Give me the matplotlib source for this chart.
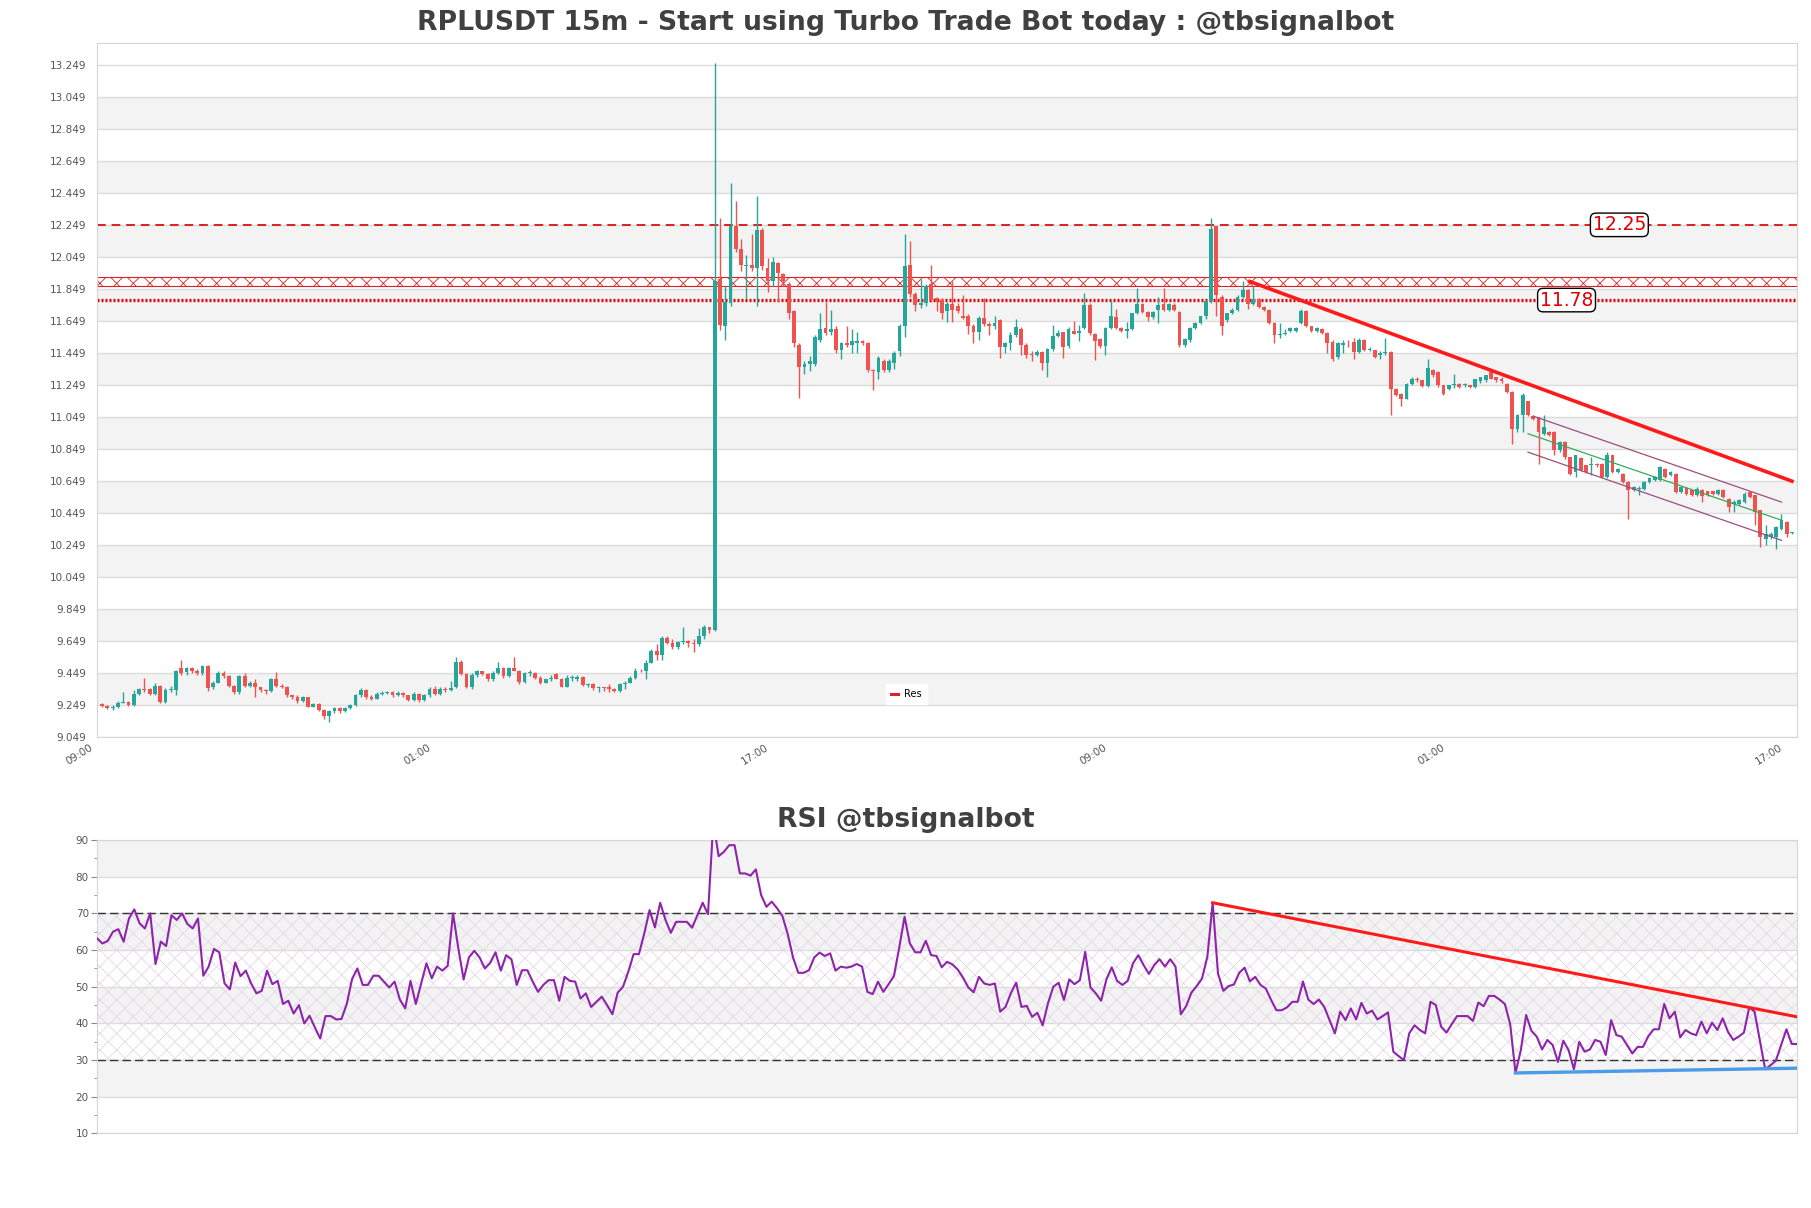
import numpy as np
import matplotlib
matplotlib.use('Agg')
import matplotlib.pyplot as plt
from matplotlib.lines import Line2D
from matplotlib.ticker import MultipleLocator
from matplotlib.transforms import ScaledTranslation

plt.rcParams['hatch.linewidth'] = 0.6
plt.rcParams['font.family'] = ['DejaVu Sans']

title = "RPLUSDT 15m - Start using Turbo Trade Bot today : @tbsignalbot"
rsi_title = "RSI @tbsignalbot"

opens = [
    9.255, 9.245, 9.23, 9.235, 9.265, 9.27, 9.25, 9.32, 9.35, 9.35,
    9.32, 9.37, 9.27, 9.345, 9.345, 9.48, 9.455, 9.48, 9.46, 9.45,
    9.495, 9.36, 9.39, 9.45, 9.43, 9.37, 9.33, 9.43, 9.37, 9.39,
    9.36, 9.345, 9.335, 9.41, 9.37, 9.365, 9.31, 9.30, 9.275, 9.30,
    9.24, 9.255, 9.22, 9.18, 9.21, 9.23, 9.21, 9.23, 9.25, 9.31,
    9.345, 9.30, 9.29, 9.32, 9.325, 9.33, 9.31, 9.325, 9.31, 9.28,
    9.32, 9.28, 9.31, 9.35, 9.32, 9.35, 9.345, 9.36, 9.52, 9.445,
    9.36, 9.44, 9.46, 9.445, 9.41, 9.45, 9.48, 9.43, 9.48, 9.465,
    9.395, 9.45, 9.45, 9.42, 9.39, 9.41, 9.445, 9.415, 9.365, 9.42,
    9.41, 9.425, 9.375, 9.38, 9.355, 9.36, 9.36, 9.35, 9.34, 9.38,
    9.39, 9.42, 9.465, 9.46, 9.515, 9.59, 9.56, 9.67, 9.64, 9.61,
    9.645, 9.65, 9.64, 9.63, 9.68, 9.735, 9.72, 11.91, 11.62, 11.76,
    12.24, 12.10, 11.99, 12.0, 11.98, 12.22, 11.98, 11.90, 12.01, 11.94,
    11.88, 11.71, 11.50, 11.36, 11.38, 11.38, 11.53, 11.605, 11.58, 11.60,
    11.47, 11.51, 11.50, 11.515, 11.525, 11.51, 11.345, 11.33, 11.40, 11.345,
    11.39, 11.46, 11.615, 12.0, 11.82, 11.75, 11.76, 11.88, 11.79, 11.78,
    11.71, 11.755, 11.74, 11.68, 11.68, 11.62, 11.58, 11.67, 11.63, 11.615,
    11.655, 11.49, 11.51, 11.56, 11.60, 11.50, 11.445, 11.44, 11.455, 11.39,
    11.474, 11.557, 11.578, 11.495, 11.587, 11.575, 11.605, 11.751, 11.57, 11.537,
    11.491, 11.605, 11.672, 11.605, 11.585, 11.60, 11.699, 11.757, 11.703, 11.672,
    11.72, 11.757, 11.72, 11.751, 11.703, 11.501, 11.532, 11.605, 11.637, 11.678,
    11.772, 12.24, 11.80, 11.653, 11.699, 11.72, 11.80, 11.845, 11.755, 11.787,
    11.737, 11.72, 11.637, 11.564, 11.57, 11.585, 11.585, 11.637, 11.71, 11.616,
    11.585, 11.60, 11.574, 11.518, 11.424, 11.50, 11.514, 11.518, 11.455, 11.528,
    11.47, 11.466, 11.435, 11.451, 11.455, 11.226, 11.195, 11.164, 11.257, 11.289,
    11.278, 11.243, 11.341, 11.33, 11.247, 11.226, 11.25, 11.257, 11.247, 11.247,
    11.237, 11.272, 11.278, 11.33, 11.299, 11.29, 11.257, 11.205, 10.976, 11.059,
    11.147, 11.055, 11.049, 10.945, 10.955, 10.955, 10.841, 10.893, 10.799, 10.705,
    10.793, 10.747, 10.747, 10.758, 10.758, 10.674, 10.81, 10.705, 10.695, 10.643,
    10.591, 10.601, 10.601, 10.643, 10.653, 10.653, 10.726, 10.685, 10.695, 10.58,
    10.606, 10.591, 10.56, 10.591, 10.585, 10.585, 10.57, 10.591, 10.539, 10.508,
    10.508, 10.518, 10.58, 10.56, 10.466, 10.289, 10.299, 10.299, 10.351, 10.393,
    10.326]

highs = [
    9.265, 9.25, 9.25, 9.275, 9.33, 9.275, 9.345, 9.355, 9.42, 9.355,
    9.39, 9.375, 9.355, 9.37, 9.47, 9.53, 9.49, 9.485, 9.475, 9.50,
    9.50, 9.40, 9.46, 9.46, 9.44, 9.375, 9.44, 9.45, 9.40, 9.41,
    9.365, 9.35, 9.42, 9.455, 9.38, 9.37, 9.315, 9.31, 9.305, 9.30,
    9.26, 9.26, 9.225, 9.22, 9.235, 9.235, 9.235, 9.255, 9.32, 9.355,
    9.35, 9.31, 9.33, 9.34, 9.34, 9.335, 9.335, 9.33, 9.315, 9.33,
    9.325, 9.32, 9.36, 9.37, 9.36, 9.36, 9.40, 9.55, 9.53, 9.45,
    9.45, 9.47, 9.465, 9.45, 9.46, 9.52, 9.485, 9.49, 9.55, 9.47,
    9.455, 9.47, 9.455, 9.43, 9.415, 9.44, 9.45, 9.42, 9.44, 9.44,
    9.44, 9.43, 9.39, 9.385, 9.37, 9.365, 9.38, 9.355, 9.39, 9.40,
    9.43, 9.48, 9.475, 9.53, 9.60, 9.63, 9.68, 9.68, 9.66, 9.65,
    9.74, 9.655, 9.66, 9.73, 9.75, 9.74, 13.26, 12.29, 11.87, 12.51,
    12.40, 12.16, 12.06, 12.19, 12.43, 12.23, 12.04, 12.05, 12.02, 11.95,
    11.89, 11.72, 11.51, 11.40, 11.43, 11.56, 11.70, 11.77, 11.72, 11.62,
    11.52, 11.62, 11.60, 11.58, 11.53, 11.52, 11.35, 11.43, 11.41, 11.41,
    11.46, 11.63, 12.19, 12.15, 11.83, 11.91, 11.88, 12.0, 11.80, 11.79,
    11.77, 11.90, 11.76, 11.81, 11.69, 11.63, 11.68, 11.79, 11.64, 11.68,
    11.66, 11.52, 11.58, 11.66, 11.61, 11.51, 11.46, 11.47, 11.46, 11.48,
    11.626, 11.59, 11.58, 11.61, 11.65, 11.626, 11.824, 11.76, 11.575, 11.54,
    11.61, 11.772, 11.724, 11.61, 11.64, 11.70, 11.855, 11.76, 11.71, 11.71,
    11.80, 11.855, 11.76, 11.76, 11.71, 11.54, 11.61, 11.64, 11.68, 11.78,
    12.293, 12.245, 11.81, 11.70, 11.73, 11.81, 11.90, 11.85, 11.866, 11.79,
    11.74, 11.725, 11.64, 11.637, 11.60, 11.61, 11.61, 11.724, 11.715, 11.62,
    11.61, 11.605, 11.58, 11.53, 11.52, 11.53, 11.53, 11.54, 11.54, 11.535,
    11.49, 11.47, 11.46, 11.54, 11.46, 11.23, 11.20, 11.26, 11.30, 11.30,
    11.28, 11.414, 11.35, 11.335, 11.25, 11.25, 11.32, 11.26, 11.265, 11.25,
    11.29, 11.30, 11.31, 11.335, 11.30, 11.30, 11.26, 11.21, 11.07, 11.20,
    11.15, 11.06, 11.05, 11.059, 10.96, 10.96, 10.90, 10.90, 10.80, 10.815,
    10.80, 10.75, 10.80, 10.76, 10.76, 10.83, 10.815, 10.73, 10.70, 10.65,
    10.62, 10.62, 10.65, 10.675, 10.68, 10.745, 10.73, 10.71, 10.70, 10.62,
    10.61, 10.595, 10.61, 10.60, 10.59, 10.59, 10.60, 10.60, 10.545, 10.53,
    10.535, 10.58, 10.59, 10.565, 10.47, 10.372, 10.33, 10.37, 10.445, 10.40,
    10.33]

lows = [
    9.24, 9.225, 9.22, 9.23, 9.26, 9.245, 9.245, 9.315, 9.33, 9.31,
    9.315, 9.26, 9.265, 9.33, 9.31, 9.44, 9.44, 9.45, 9.44, 9.44,
    9.34, 9.35, 9.385, 9.42, 9.365, 9.32, 9.32, 9.36, 9.36, 9.30,
    9.33, 9.32, 9.33, 9.36, 9.355, 9.30, 9.29, 9.265, 9.27, 9.235,
    9.235, 9.21, 9.16, 9.145, 9.20, 9.20, 9.205, 9.225, 9.245, 9.30,
    9.29, 9.28, 9.285, 9.31, 9.32, 9.30, 9.305, 9.30, 9.275, 9.275,
    9.27, 9.275, 9.30, 9.31, 9.315, 9.33, 9.335, 9.355, 9.44, 9.355,
    9.35, 9.425, 9.435, 9.40, 9.40, 9.445, 9.42, 9.425, 9.46, 9.38,
    9.39, 9.43, 9.41, 9.38, 9.385, 9.40, 9.41, 9.36, 9.36, 9.40,
    9.40, 9.37, 9.36, 9.345, 9.33, 9.335, 9.33, 9.33, 9.33, 9.35,
    9.385, 9.41, 9.455, 9.415, 9.51, 9.53, 9.53, 9.63, 9.60, 9.60,
    9.63, 9.61, 9.58, 9.62, 9.66, 9.70, 9.71, 11.59, 11.53, 11.74,
    12.08, 11.96, 11.79, 11.96, 11.74, 11.97, 11.83, 11.87, 11.77, 11.87,
    11.66, 11.49, 11.17, 11.32, 11.34, 11.37, 11.52, 11.56, 11.56, 11.45,
    11.41, 11.49, 11.45, 11.45, 11.50, 11.33, 11.22, 11.29, 11.33, 11.33,
    11.35, 11.43, 11.55, 11.80, 11.71, 11.73, 11.74, 11.77, 11.71, 11.66,
    11.64, 11.64, 11.70, 11.66, 11.57, 11.51, 11.53, 11.62, 11.56, 11.60,
    11.42, 11.45, 11.47, 11.55, 11.44, 11.42, 11.40, 11.43, 11.345, 11.30,
    11.46, 11.55, 11.418, 11.48, 11.565, 11.522, 11.60, 11.56, 11.407, 11.48,
    11.439, 11.60, 11.60, 11.58, 11.543, 11.59, 11.69, 11.70, 11.647, 11.66,
    11.637, 11.71, 11.71, 11.71, 11.49, 11.49, 11.52, 11.60, 11.63, 11.66,
    11.76, 11.68, 11.564, 11.64, 11.69, 11.71, 11.79, 11.724, 11.75, 11.73,
    11.71, 11.63, 11.512, 11.543, 11.56, 11.58, 11.58, 11.63, 11.61, 11.58,
    11.58, 11.565, 11.449, 11.40, 11.41, 11.45, 11.49, 11.414, 11.45, 11.46,
    11.46, 11.42, 11.41, 11.44, 11.059, 11.18, 11.12, 11.16, 11.25, 11.27,
    11.24, 11.24, 11.30, 11.24, 11.19, 11.22, 11.23, 11.23, 11.24, 11.23,
    11.23, 11.265, 11.27, 11.285, 11.27, 11.265, 11.20, 10.882, 10.955, 10.955,
    11.055, 11.03, 10.758, 10.94, 10.93, 10.81, 10.83, 10.79, 10.69, 10.674,
    10.71, 10.70, 10.685, 10.74, 10.67, 10.67, 10.70, 10.70, 10.64, 10.414,
    10.585, 10.56, 10.595, 10.64, 10.65, 10.65, 10.67, 10.68, 10.575, 10.575,
    10.565, 10.555, 10.555, 10.518, 10.555, 10.565, 10.565, 10.545, 10.456, 10.456,
    10.50, 10.51, 10.545, 10.372, 10.237, 10.247, 10.29, 10.227, 10.345, 10.299,
    10.32]

closes = [
    9.245, 9.23, 9.24, 9.265, 9.27, 9.25, 9.32, 9.35, 9.345, 9.32,
    9.37, 9.27, 9.345, 9.35, 9.465, 9.45, 9.48, 9.46, 9.45, 9.495,
    9.355, 9.39, 9.45, 9.43, 9.37, 9.33, 9.43, 9.37, 9.39, 9.36,
    9.345, 9.335, 9.41, 9.37, 9.365, 9.31, 9.30, 9.275, 9.30, 9.24,
    9.255, 9.22, 9.18, 9.21, 9.23, 9.21, 9.23, 9.25, 9.31, 9.345,
    9.30, 9.29, 9.32, 9.325, 9.33, 9.31, 9.325, 9.31, 9.28, 9.32,
    9.28, 9.31, 9.35, 9.32, 9.35, 9.345, 9.355, 9.52, 9.445, 9.36,
    9.44, 9.46, 9.445, 9.41, 9.45, 9.48, 9.43, 9.48, 9.465, 9.395,
    9.45, 9.45, 9.42, 9.39, 9.41, 9.42, 9.415, 9.365, 9.42, 9.42,
    9.425, 9.375, 9.38, 9.355, 9.36, 9.355, 9.35, 9.34, 9.38, 9.39,
    9.42, 9.465, 9.46, 9.515, 9.59, 9.56, 9.67, 9.64, 9.61, 9.645,
    9.65, 9.64, 9.63, 9.68, 9.735, 9.72, 11.90, 11.625, 11.77, 12.24,
    12.10, 12.00, 12.0, 11.98, 12.22, 11.99, 11.90, 12.02, 11.95, 11.90,
    11.70, 11.51, 11.36, 11.38, 11.40, 11.55, 11.60, 11.575, 11.60, 11.47,
    11.51, 11.50, 11.525, 11.525, 11.51, 11.345, 11.335, 11.42, 11.345, 11.40,
    11.45, 11.615, 11.99, 11.82, 11.75, 11.76, 11.87, 11.78, 11.77, 11.70,
    11.755, 11.72, 11.71, 11.67, 11.62, 11.58, 11.67, 11.63, 11.615, 11.635,
    11.49, 11.51, 11.56, 11.61, 11.50, 11.44, 11.44, 11.455, 11.387, 11.474,
    11.557, 11.574, 11.49, 11.60, 11.57, 11.587, 11.751, 11.574, 11.526, 11.491,
    11.605, 11.678, 11.605, 11.585, 11.60, 11.699, 11.757, 11.703, 11.672, 11.703,
    11.751, 11.72, 11.757, 11.72, 11.501, 11.537, 11.605, 11.637, 11.678, 11.772,
    12.224, 11.81, 11.616, 11.699, 11.72, 11.80, 11.845, 11.755, 11.787, 11.737,
    11.72, 11.637, 11.564, 11.57, 11.574, 11.605, 11.605, 11.71, 11.616, 11.585,
    11.605, 11.574, 11.512, 11.414, 11.514, 11.514, 11.51, 11.455, 11.528, 11.47,
    11.47, 11.424, 11.451, 11.455, 11.222, 11.185, 11.164, 11.257, 11.289, 11.278,
    11.243, 11.355, 11.31, 11.247, 11.195, 11.247, 11.257, 11.237, 11.257, 11.237,
    11.289, 11.299, 11.31, 11.289, 11.278, 11.272, 11.205, 10.976, 11.064, 11.189,
    11.059, 11.035, 10.955, 10.987, 10.935, 10.841, 10.893, 10.799, 10.695, 10.81,
    10.716, 10.705, 10.758, 10.747, 10.674, 10.81, 10.705, 10.726, 10.643, 10.591,
    10.612, 10.605, 10.643, 10.668, 10.674, 10.737, 10.674, 10.705, 10.58, 10.612,
    10.57, 10.56, 10.601, 10.556, 10.56, 10.57, 10.591, 10.549, 10.487, 10.518,
    10.528, 10.57, 10.549, 10.456, 10.299, 10.32, 10.32, 10.362, 10.404, 10.32,
    10.326]

rsi = [
    63.2, 61.8, 62.5, 65.0, 65.7, 62.3, 68.6, 71.1, 67.3, 65.9,
    70.0, 56.2, 62.3, 61.1, 69.5, 68.2, 70.0, 67.1, 65.9, 68.6,
    53.0, 55.5, 60.3, 59.4, 50.9, 49.3, 56.6, 52.9, 54.4, 50.9,
    48.2, 48.9, 54.4, 50.7, 51.6, 45.3, 46.2, 42.7, 45.0, 40.0,
    42.1, 38.9, 35.9, 42.0, 42.0, 41.1, 41.2, 45.3, 52.1, 55.0,
    50.5, 50.5, 53.0, 53.0, 51.4, 49.8, 51.4, 46.5, 44.1, 51.6,
    45.3, 50.9, 56.4, 52.3, 55.5, 54.4, 55.7, 70.0, 60.5, 52.0,
    58.0, 59.8, 58.0, 55.0, 56.5, 59.4, 54.4, 58.6, 57.5, 50.5,
    54.5, 54.5, 51.4, 48.6, 50.5, 51.8, 51.8, 46.2, 52.7, 51.6,
    51.4, 46.8, 48.2, 44.5, 45.9, 47.3, 45.0, 42.5, 48.4, 50.0,
    54.1, 58.9, 58.9, 64.5, 70.9, 66.2, 72.9, 68.2, 64.7, 67.7,
    67.7, 67.7, 66.1, 69.5, 72.9, 69.8, 95.0, 85.6, 86.8, 88.6,
    88.6, 80.9, 80.9, 80.3, 82.0, 75.0, 71.8, 73.2, 71.4, 69.3,
    64.4, 58.0, 53.8, 53.8, 54.5, 58.0, 59.3, 58.4, 59.1, 54.4,
    55.5, 55.2, 55.5, 56.2, 55.5, 48.6, 48.0, 51.4, 48.6, 50.7,
    52.9, 60.7, 69.1, 61.8, 59.4, 59.4, 62.5, 58.6, 58.4, 55.3,
    56.8, 56.1, 54.7, 52.5, 49.8, 48.5, 52.7, 50.9, 50.5, 50.9,
    43.2, 44.5, 48.2, 51.1, 44.5, 44.8, 41.8, 42.9, 39.5, 45.5,
    50.0, 51.1, 46.4, 52.0, 50.7, 51.8, 59.5, 49.8, 48.2, 46.2,
    52.0, 55.3, 51.6, 50.5, 51.6, 56.4, 58.6, 55.9, 53.5, 55.9,
    57.5, 55.5, 57.5, 55.5, 42.5, 44.7, 48.4, 50.2, 52.3, 58.2,
    72.9, 53.6, 48.9, 50.2, 50.6, 53.8, 55.2, 51.5, 52.7, 50.5,
    49.5, 46.4, 43.6, 43.6, 44.4, 45.9, 45.9, 51.4, 46.5, 45.3,
    46.5, 44.5, 40.9, 37.3, 43.2, 40.9, 44.1, 41.1, 45.6, 42.7,
    43.5, 41.1, 42.0, 43.0, 32.3, 31.1, 30.0, 37.3, 39.5, 38.2,
    37.3, 45.9, 45.0, 39.1, 37.5, 39.8, 42.0, 42.0, 42.0, 40.7,
    45.7, 44.7, 47.5, 47.5, 46.5, 45.3, 39.8, 26.5, 32.7, 42.3,
    38.0, 36.4, 32.9, 35.5, 34.1, 29.5, 35.3, 32.7, 27.5, 35.0,
    32.3, 32.9, 35.5, 35.0, 31.4, 40.9, 36.8, 36.4, 34.1, 31.8,
    33.6, 33.6, 36.5, 38.4, 38.4, 45.3, 41.4, 43.2, 36.2, 38.2,
    37.3, 36.8, 40.5, 37.3, 40.2, 38.2, 41.4, 37.7, 35.5, 36.4,
    37.5, 44.4, 43.2, 35.3, 27.5, 28.6, 29.8, 34.1, 38.4, 34.4,
    34.4]

time_tick_pos = [0, 64, 128, 192, 256, 320]
time_tick_labels = ["09:00", "01:00", "17:00", "09:00", "01:00", "17:00"]
price_ticks = [9.049, 9.249, 9.449, 9.649, 9.849, 10.049, 10.249, 10.449, 10.649,
               10.849, 11.049, 11.249, 11.449, 11.649, 11.849, 12.049, 12.249,
               12.449, 12.649, 12.849, 13.049, 13.249]
price_bands = [(9.249, 9.449), (9.649, 9.849), (10.049, 10.249), (10.449, 10.649),
               (10.849, 11.049), (11.249, 11.449), (11.649, 11.849), (12.049, 12.249),
               (12.449, 12.649), (12.849, 13.049)]
rsi_ticks = [10, 20, 30, 40, 50, 60, 70, 80, 90]
rsi_bands = [(20, 30), (40, 50), (60, 70), (80, 90)]

resistance = 12.25
support = 11.78
zone_low, zone_high = 11.866, 11.924
trend_x, trend_y = [217, 320.3], [11.90, 10.645]
chan_up_x, chan_up_y = [271, 318], [11.055, 10.518]
chan_mid_x, chan_mid_y = [270, 318], [10.945, 10.405]
chan_lo_x, chan_lo_y = [270, 318], [10.83, 10.279]
rsi_res_x, rsi_res_y = [210, 320], [72.9, 41.8]
rsi_sup_x, rsi_sup_y = [267, 320], [26.5, 27.8]
label_res_x, label_sup_x = 287.3, 277.3

GREEN = '#26a69a'
RED = '#ef5350'
GRID = '#dcdcdc'
BAND = '#f3f3f3'
SPINE = '#d6d6d6'
TXT = '#555555'

o = np.array(opens); h = np.array(highs); l = np.array(lows); c = np.array(closes)
x = np.arange(len(c))
col = np.where(c >= o, GREEN, RED)

fig = plt.figure(figsize=(18.11, 12.08), dpi=100)
ax = fig.add_axes([0.0536, 0.3897, 0.9387, 0.5747])
ax2 = fig.add_axes([0.0536, 0.0617, 0.9387, 0.2429])

# ---------- price panel ----------
ax.set_xlim(-0.95, len(c) - 0.05)
ax.set_ylim(9.049, 13.386)
for lo_, hi_ in price_bands:
    ax.axhspan(lo_, hi_, color=BAND, zorder=0.1, lw=0)
ax.set_yticks(price_ticks)
ax.set_yticklabels([f"{t:.3f}" for t in price_ticks])
ax.yaxis.grid(True, color=GRID, lw=1.0, zorder=0.5)
ax.set_axisbelow(True)
ax.tick_params(axis='y', length=0, pad=8, labelsize=7.5, labelcolor=TXT)
ax.set_xticks(time_tick_pos)
ax.set_xticklabels(time_tick_labels)
ax.tick_params(axis='x', length=0, pad=4, labelsize=7.5, labelcolor=TXT)
shift = ScaledTranslation(-0.13, 0, fig.dpi_scale_trans)
for lab in ax.get_xticklabels():
    lab.set_rotation(32)
    lab.set_ha('right')
    lab.set_va('top')
    lab.set_rotation_mode('anchor')
    lab.set_transform(lab.get_transform() + shift)
for s in ax.spines.values():
    s.set_color(SPINE)

# zone with hatch
ax.fill_between([-0.95, len(c) - 0.05], zone_low, zone_high, facecolor='none',
                edgecolor='#e02020', hatch='xx', lw=0.8, zorder=2)
ax.axhline(resistance, color='#dd2020', lw=1.4, ls=(0, (4.5, 3)), zorder=2)
ax.axhline(support, color='#e00000', lw=2.4, ls=(0, (0.6, 0.6)), zorder=2)

ax.vlines(x, l, h, colors=col, lw=1.0, zorder=3)
body_h = np.maximum(np.abs(c - o), 0.005)
ax.bar(x, body_h, bottom=np.minimum(o, c), width=0.72, color=col, lw=0, zorder=4)

ax.plot(trend_x, trend_y, color='#ff1a1a', lw=2.6, zorder=5, solid_capstyle='butt')
ax.plot(chan_up_x, chan_up_y, color='#9b4f7f', lw=0.9, zorder=5)
ax.plot(chan_lo_x, chan_lo_y, color='#9b4f7f', lw=0.9, zorder=5)
ax.plot(chan_mid_x, chan_mid_y, color='#3aa85a', lw=0.9, zorder=5)

box = dict(boxstyle='round,pad=0.12,rounding_size=0.3', fc='white', ec='black', lw=1.0)
ax.text(label_res_x, resistance, f"{resistance:.2f}", color='#e00000', fontsize=13.5,
        ha='center', va='center', bbox=box, zorder=6)
ax.text(label_sup_x, support, f"{support:.2f}", color='#e00000', fontsize=13.5,
        ha='center', va='center', bbox=box, zorder=6)

leg = ax.legend(handles=[Line2D([0], [0], color='#d62728', lw=2.2)], labels=['Res'],
                loc='center', bbox_to_anchor=(0.476, 0.062), fontsize=7,
                handlelength=0.8, handletextpad=0.6, borderpad=0.5,
                frameon=True, framealpha=1.0, edgecolor='white', fancybox=False)

# ---------- RSI panel ----------
xr = np.arange(len(rsi))
ax2.set_xlim(0, len(rsi) - 1)
ax2.set_ylim(10, 90)
for lo_, hi_ in rsi_bands:
    ax2.axhspan(lo_, hi_, color=BAND, zorder=0.1, lw=0)
ax2.fill_between([0, len(rsi) - 1], 30, 70, facecolor='none', edgecolor='#e2d8e6',
                 hatch='xx', lw=0, zorder=0.3)
ax2.set_yticks(rsi_ticks)
ax2.yaxis.set_minor_locator(MultipleLocator(5))
ax2.yaxis.grid(True, color=GRID, lw=1.0, zorder=0.5)
ax2.set_axisbelow(True)
ax2.tick_params(axis='y', which='major', length=4, color='#888888', pad=2,
                labelsize=7.5, labelcolor=TXT)
ax2.tick_params(axis='y', which='minor', length=2, color='#888888')
ax2.set_xticks([])
for s in ax2.spines.values():
    s.set_color(SPINE)

ax2.axhline(70, color='#333333', lw=1.0, ls=(0, (6, 3)), zorder=2)
ax2.axhline(30, color='#333333', lw=1.0, ls=(0, (6, 3)), zorder=2)
ax2.plot(xr, rsi, color='#8e24aa', lw=1.5, zorder=3)
ax2.plot(rsi_res_x, rsi_res_y, color='#ff1a1a', lw=2.2, zorder=4)
ax2.plot(rsi_sup_x, rsi_sup_y, color='#4a9be8', lw=2.4, zorder=4)

fig.text(0.5, 1 - 23 / 1208, title, ha='center', va='center', fontsize=19.2,
         fontweight='bold', color='#404040')
fig.text(0.5, 1 - 820 / 1208, rsi_title, ha='center', va='center', fontsize=19.2,
         fontweight='bold', color='#404040')

fig.savefig('out.png', dpi=100, facecolor='white')
